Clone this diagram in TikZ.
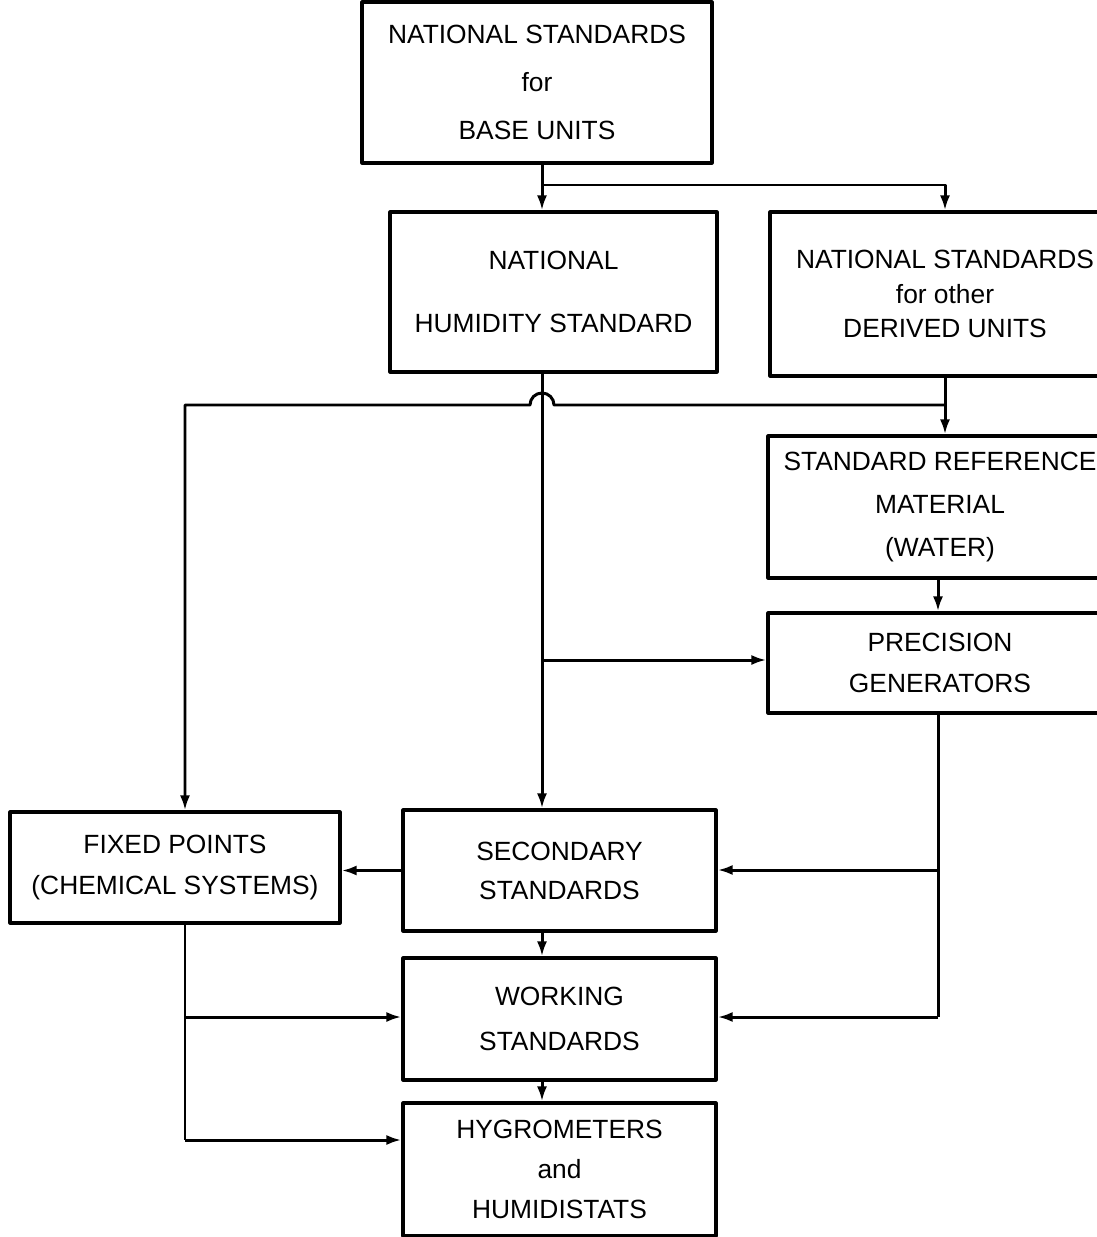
\documentclass[tikz,border=0pt]{standalone}
\usepackage{fontspec}
\setmainfont{Liberation Sans}
\usetikzlibrary{arrows.meta}
\tikzset{khung/.style={draw, line width=1.8pt, align=center, inner sep=0pt}}
\begin{document}
\begin{tikzpicture}[x=0.2mm, y=-0.2mm, font=\fontsize{15}{18}\selectfont, line join=round, line width=1.7pt, >={Latex[length=3mm,width=2mm]}]
				\useasboundingbox (0,0) rectangle (1097,1237);
				% Các khung
				\node[khung, minimum width=7cm, minimum height=3.22cm] (base) at (537,82.5) {NATIONAL STANDARDS\\[0.33cm]for\\[0.33cm]BASE UNITS};
				\node[khung, minimum width=6.54cm, minimum height=3.2cm] (humid) at (553.5,292) {NATIONAL\\[0.63cm]HUMIDITY STANDARD};
				\node[khung, minimum width=7cm, minimum height=3.28cm] (derived) at (945,294) {NATIONAL STANDARDS\\[0.06cm]for other\\[0.06cm]DERIVED UNITS};
				\node[khung, minimum width=6.88cm, minimum height=2.84cm] (srm) at (940,507) {STANDARD REFERENCE\\[0.22cm]MATERIAL\\[0.22cm](WATER)};
				\node[khung, minimum width=6.88cm, minimum height=2cm] (prec) at (940,663) {PRECISION\\[0.2cm]GENERATORS};
				\node[khung, minimum width=6.6cm, minimum height=2.22cm] (fixed) at (175,867.5) {FIXED POINTS\\[0.19cm](CHEMICAL SYSTEMS)};
				\node[khung, minimum width=6.26cm, minimum height=2.42cm] (second) at (559.5,870.5) {SECONDARY\\[0.15cm]STANDARDS};
				\node[khung, minimum width=6.26cm, minimum height=2.44cm] (work) at (559.5,1019) {WORKING\\[0.27cm]STANDARDS};
				\node[khung, minimum width=6.26cm, minimum height=2.66cm] (hygro) at (559.5,1169.5) {HYGROMETERS\\[0.17cm]and\\[0.17cm]HUMIDISTATS};
				% Các điểm nối
				\coordinate (m) at (542,185); % trục giữa
				\coordinate (r) at (945,185);
				\coordinate (hL) at (185,405);
				\coordinate (hR) at (945,405);
				\coordinate (pJ) at (542,660);
				\coordinate (pS) at (938,870);
				\coordinate (pB) at (938,1017);
				\coordinate (fW) at (185,1017);
				\coordinate (fH) at (185,1140);
				% Mũi tên
				\draw[->] (base.south -| m)--(humid.north -| m);
				\draw[->] (m)--(r)--(derived.north -| r);
				\draw[->] (humid.south -| m)--(second.north -| m);
				\draw[->] (derived.south -| r)--(srm.north -| r);
				\draw[->] (hR)--(554,405) arc (0:-180:12)--(hL)--(fixed.north -| hL);
				\draw[->] (pJ)--(prec.west |- pJ);
				\draw[->] (srm.south -| pS)--(prec.north -| pS);
				\draw (prec.south -| pB)--(pB);
				\draw[->] (pS)--(second.east |- pS);
				\draw[->] (pB)--(work.east |- pB);
				\draw[->] (second.west)--(fixed.east |- second.west);
				\draw[->] (second.south -| m)--(work.north -| m);
				\draw[->] (work.south -| m)--(hygro.north -| m);
				\draw (fixed.south -| fH)--(fH);
				\draw[->] (fW)--(work.west |- fW);
				\draw[->] (fH)--(hygro.west |- fH);
		\end{tikzpicture}
\end{document}
